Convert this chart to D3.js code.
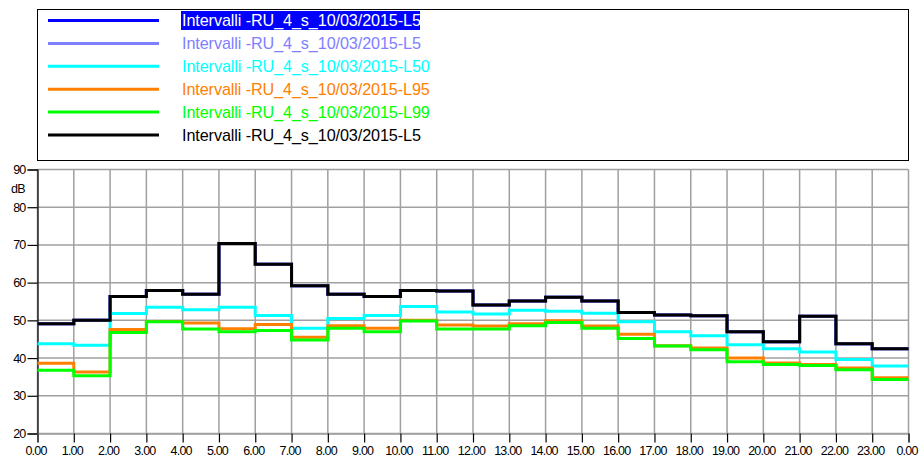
<!DOCTYPE html>
<html><head><meta charset="utf-8">
<script src="https://cdn.jsdelivr.net/npm/d3@7"></script>
<style>body{margin:0;background:#fff}svg{display:block}</style>
</head><body>
<svg id="c" width="920" height="464"></svg>
<script>
const hours = d3.range(0, 24);
const xTickLabels = ["0.00","1.00","2.00","3.00","4.00","5.00","6.00","7.00","8.00","9.00","10.00","11.00","12.00","13.00","14.00","15.00","16.00","17.00","18.00","19.00","20.00","21.00","22.00","23.00","0.00"];
const yTicks = [20,30,40,50,60,70,80,90];
const seriesNames = [
  "Intervalli -RU_4_s_10/03/2015-L5",
  "Intervalli -RU_4_s_10/03/2015-L5",
  "Intervalli -RU_4_s_10/03/2015-L50",
  "Intervalli -RU_4_s_10/03/2015-L95",
  "Intervalli -RU_4_s_10/03/2015-L99",
  "Intervalli -RU_4_s_10/03/2015-L5"
];
const seriesColors = ["#0000ff","#8080ff","#00ffff","#ff8000","#00ff00","#000000"];
const L5  = [49.1,50.0,56.3,57.9,56.9,70.4,64.9,59.2,56.9,56.3,57.9,57.8,54.1,55.1,56.1,55.1,52.1,51.4,51.2,47.0,44.3,51.1,43.8,42.5];
const L50 = [43.8,43.4,51.8,53.5,52.8,53.5,51.3,47.9,50.5,51.3,53.7,52.2,51.7,52.7,52.4,51.9,49.6,47.0,45.9,43.5,42.5,41.6,39.6,37.9];
const L95 = [38.6,36.3,47.6,49.7,49.3,47.8,48.9,45.5,48.6,47.9,50.0,48.8,48.5,49.1,49.9,48.5,46.3,43.3,42.7,40.0,38.7,38.3,37.4,34.8];
const L99 = [36.8,35.3,46.8,49.6,47.7,47.0,47.3,44.8,47.9,47.0,49.8,47.7,47.7,48.6,49.4,47.9,45.2,43.2,42.2,39.0,38.3,38.0,36.9,34.3];
const seriesValues = [L5, L5, L50, L95, L99, L5];

(function () {
const svg = d3.select("#c");
const FONT = "'Liberation Sans', Arial, sans-serif";
const pL = 37.5, pR = 908.5, pT = 169.5, pB = 433.5;
const x = d3.scaleLinear().domain([0, 24]).range([pL, pR]);
const y = d3.scaleLinear().domain([20, 90]).range([pB, pT]);

// legend box
svg.append("rect").attr("x", 37.5).attr("y", 9.5).attr("width", 871).attr("height", 151)
  .attr("fill", "none").attr("stroke", "#000").attr("stroke-width", 1);
const lg = svg.append("g");
seriesNames.forEach((n, i) => {
  const cy = 20.5 + i * 22.9;
  lg.append("line").attr("x1", 48).attr("x2", 159).attr("y1", cy).attr("y2", cy)
    .attr("stroke", seriesColors[i]).attr("stroke-width", 3);
  if (i === 0) {
    lg.append("rect").attr("x", 181).attr("y", cy - 9.5).attr("width", 239).attr("height", 19).attr("fill", "#0000ff");
  }
  lg.append("text").attr("x", 182).attr("y", cy + 5.5).text(n)
    .attr("font-family", FONT).attr("font-size", 16.2).attr("letter-spacing", "-0.1px")
    .attr("fill", i === 0 ? "#ffffff" : seriesColors[i]);
});

// grid
const grid = svg.append("g").attr("stroke", "#a0a0a0").attr("stroke-width", 1.5);
d3.range(0, 25).forEach(h => {
  grid.append("line").attr("x1", x(h)).attr("x2", x(h)).attr("y1", pT).attr("y2", pB);
});
yTicks.forEach(v => {
  grid.append("line").attr("x1", pL).attr("x2", pR).attr("y1", y(v)).attr("y2", y(v));
});

// axes
const yAxis = d3.axisLeft(y).tickValues(yTicks).tickSize(10).tickPadding(2).tickFormat(d3.format("d"));
const gy = svg.append("g").attr("transform", `translate(${pL},0)`).call(yAxis);
gy.select(".domain").attr("stroke", "#000").attr("stroke-width", 1.2);
gy.selectAll(".tick line").attr("stroke", "#000").attr("stroke-width", 1.2);
gy.selectAll("text").attr("font-family", FONT).attr("font-size", 12.5).attr("letter-spacing", "-0.8px").attr("fill", "#000");
svg.append("text").attr("x", 11).attr("y", 193).text("dB")
  .attr("font-family", FONT).attr("font-size", 12.5).attr("letter-spacing", "-0.8px");

const xAxis = d3.axisBottom(x).tickValues(d3.range(0, 25)).tickSize(9).tickPadding(4)
  .tickFormat((d, i) => xTickLabels[i]);
const gx = svg.append("g").attr("transform", `translate(0,${pB})`).call(xAxis);
gx.select(".domain").attr("stroke", "#a0a0a0").attr("stroke-width", 1.5);
gx.selectAll(".tick line").attr("stroke", "#000").attr("stroke-width", 1.2);
gx.selectAll("text").attr("font-family", FONT).attr("font-size", 12.5).attr("letter-spacing", "-0.8px")
  .attr("fill", "#000").attr("dx", "-2");

// series
const line = d3.line().x(d => x(d[0])).y(d => y(d[1])).curve(d3.curveStepAfter);
seriesValues.forEach((vals, i) => {
  const pts = hours.map(h => [h, vals[h]]);
  pts.push([24, vals[23]]);
  svg.append("path").attr("d", line(pts)).attr("fill", "none")
    .attr("stroke", seriesColors[i]).attr("stroke-width", 3);
});
})();
</script>
</body></html>
